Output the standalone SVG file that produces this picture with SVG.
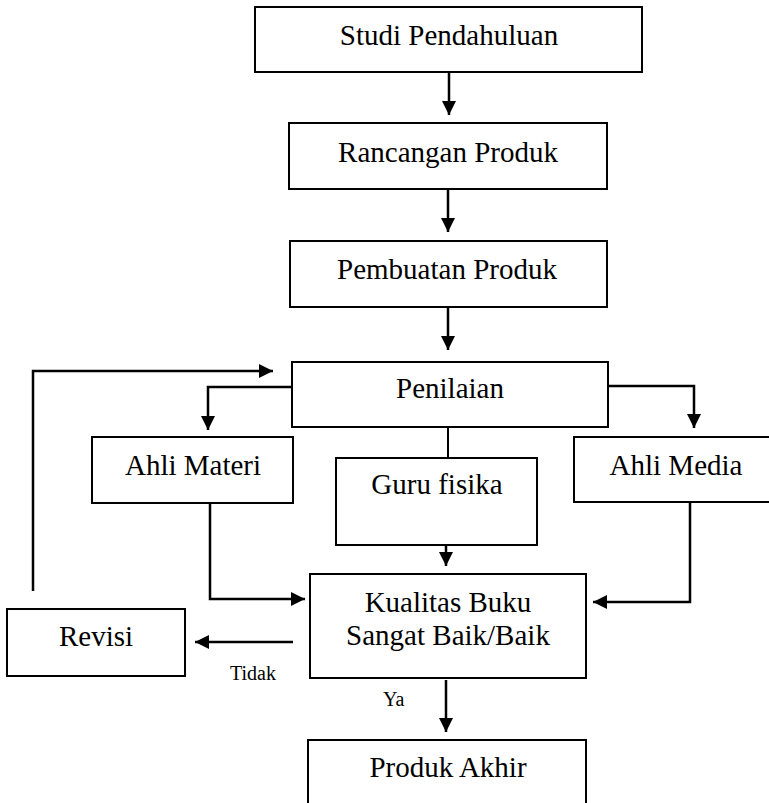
<svg xmlns="http://www.w3.org/2000/svg" width="769" height="803" viewBox="0 0 769 803">
<style>
.box{fill:#fff;stroke:#000;stroke-width:2}
.t{font-size:29px;fill:#000;text-anchor:middle}
.s{font-size:20px;fill:#000}
.c{fill:none;stroke:#000;stroke-width:2.5}
</style>
<defs>
<marker id="ah" markerUnits="userSpaceOnUse" markerWidth="14" markerHeight="14" refX="14" refY="7" orient="auto">
<path d="M0,0 L14,7 L0,14 z" fill="#000"/>
</marker>
</defs>
<rect width="769" height="803" fill="#fff"/>
<g font-family="'Liberation Serif', 'DejaVu Serif', serif">
<g id="connectors">
<path class="c" d="M449,72 V115" marker-end="url(#ah)"/>
<path class="c" d="M448,189 V232" marker-end="url(#ah)"/>
<path class="c" d="M448,307 V350" marker-end="url(#ah)"/>
<path class="c" d="M33,591 V371 H273" marker-end="url(#ah)"/>
<path class="c" d="M292,387 H208 V430" marker-end="url(#ah)"/>
<path class="c" d="M608,386 H694 V428" marker-end="url(#ah)"/>
<path class="c" d="M448,427 V458" style="stroke-width:2"/>
<path class="c" d="M446,545 V566" marker-end="url(#ah)"/>
<path class="c" d="M210,503 V599 H305" marker-end="url(#ah)"/>
<path class="c" d="M690,503 V602 H593" marker-end="url(#ah)"/>
<path class="c" d="M293,642 H195" marker-end="url(#ah)"/>
<path class="c" d="M446,680 V732" marker-end="url(#ah)"/>
<text class="s" x="230" y="680">Tidak</text>
<text class="s" x="383" y="706">Ya</text>
</g>
<g id="studi"><rect class="box" x="255" y="7" width="387" height="65"/><text class="t" x="449" y="45">Studi Pendahuluan</text></g>
<g id="rancangan"><rect class="box" x="289" y="123" width="318" height="66"/><text class="t" x="448" y="162">Rancangan Produk</text></g>
<g id="pembuatan"><rect class="box" x="290" y="241" width="317" height="66"/><text class="t" x="447" y="279">Pembuatan Produk</text></g>
<g id="penilaian"><rect class="box" x="292" y="362" width="316" height="65"/><text class="t" x="450" y="398">Penilaian</text></g>
<g id="ahli-materi"><rect class="box" x="92" y="437" width="201" height="66"/><text class="t" x="193" y="475">Ahli Materi</text></g>
<g id="guru-fisika"><rect class="box" x="336" y="458" width="201" height="87"/><text class="t" x="437" y="494">Guru fisika</text></g>
<g id="ahli-media"><rect class="box" x="574" y="437" width="200" height="65"/><text class="t" x="676" y="475">Ahli Media</text></g>
<g id="kualitas"><rect class="box" x="310" y="574" width="276" height="104"/><text class="t" x="448" y="612">Kualitas Buku</text><text class="t" x="448" y="645">Sangat Baik/Baik</text></g>
<g id="revisi"><rect class="box" x="7" y="609" width="178" height="67"/><text class="t" x="96" y="646">Revisi</text></g>
<g id="produk-akhir"><rect class="box" x="308" y="740" width="278" height="70"/><text class="t" x="448" y="777">Produk Akhir</text></g>
</g>
</svg>
